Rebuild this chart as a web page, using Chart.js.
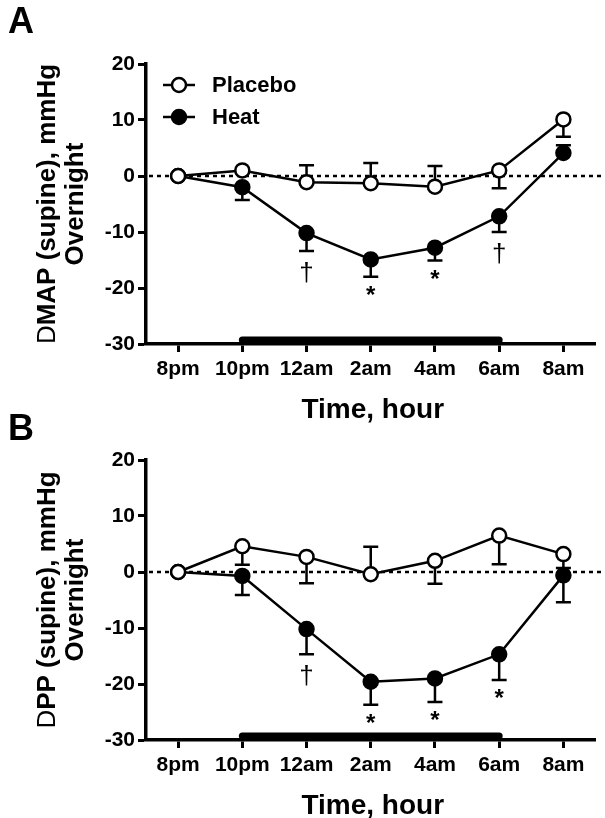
<!DOCTYPE html>
<html>
<head>
<meta charset="UTF-8">
<title>Overnight MAP / PP</title>
<script src="https://cdn.jsdelivr.net/npm/chart.js"></script>
<style>
  body { margin: 0; background: #fff; }
  .panel { position: absolute; left: 0; width: 605px; }
</style>
</head>
<body>
<div class="panel" style="top:0;height:425px"><canvas id="chartA"></canvas></div>
<div class="panel" style="top:400px;height:418px"><canvas id="chartB"></canvas></div>

<script>
// data (mmHg change from 8pm)
const hours = ['8pm', '10pm', '12am', '2am', '4am', '6am', '8am'];
const sleepBar = ['10pm', '6am'];

// panel A - MAP
const placeboA    = [0, 1.0, -1.1, -1.3, -1.9, 1.0, 10.1];
const placeboAErr = [0, 0, 3.0, 3.6, 3.7, -3.2, -3.1];   // + drawn up, - drawn down
const heatA       = [0, -2.0, -10.2, -14.9, -12.8, -7.2, 4.1];
const heatAErr    = [0, -2.3, -3.2, -3.1, -2.3, -2.8, 1.4];
const marksA      = ['', '', '†', '*', '*', '†', ''];

// panel B - PP
const placeboB    = [0, 4.6, 2.7, -0.4, 2.0, 6.5, 3.2];
const placeboBErr = [0, -3.3, -4.7, 4.9, -4.1, -5.1, -2.5];
const heatB       = [0, -0.7, -10.2, -19.6, -19.0, -14.7, -0.6];
const heatBErr    = [0, -3.4, -4.5, -4.1, -4.2, -4.6, -4.8];
const marksB      = ['', '', '†', '*', '*', '*', ''];

const FONT = "'Liberation Sans', Arial, sans-serif";

function makeChart(id, p) {
    const extras = {
        id: 'extras',
        beforeDatasetsDraw(chart) {
            const ctx = chart.ctx, x = chart.scales.x, y = chart.scales.y, area = chart.chartArea;
            ctx.save();
            ctx.strokeStyle = '#000';
            // short minor ticks on the y axis
            ctx.lineWidth = 3;
            y.ticks.forEach(t => {
                if (t.value % 10 === 0) return;
                const ty = y.getPixelForValue(t.value);
                ctx.beginPath();
                ctx.moveTo(area.left - 5, ty);
                ctx.lineTo(area.left, ty);
                ctx.stroke();
            });
            // dotted zero line
            ctx.lineWidth = 2.5;
            ctx.setLineDash([4, 4]);
            ctx.beginPath();
            ctx.moveTo(area.left + 3, y.getPixelForValue(0));
            ctx.lineTo(chart.width, y.getPixelForValue(0));
            ctx.stroke();
            ctx.setLineDash([]);
            // error bars
            [p.placeboErr, p.heatErr].forEach((errs, i) => {
                const vals = chart.data.datasets[i].data;
                errs.forEach((e, j) => {
                    if (!e) return;
                    const px = x.getPixelForValue(j);
                    const y0 = y.getPixelForValue(vals[j]);
                    const y1 = y.getPixelForValue(vals[j] + e);
                    ctx.beginPath();
                    ctx.moveTo(px, y0);
                    ctx.lineTo(px, y1);
                    ctx.moveTo(px - 7.5, y1);
                    ctx.lineTo(px + 7.5, y1);
                    ctx.stroke();
                });
            });
            // black bar for the sleep period
            ctx.lineWidth = 7;
            ctx.lineCap = 'round';
            ctx.beginPath();
            ctx.moveTo(x.getPixelForValue(hours.indexOf(sleepBar[0])), area.bottom - 4);
            ctx.lineTo(x.getPixelForValue(hours.indexOf(sleepBar[1])), area.bottom - 4);
            ctx.stroke();
            ctx.restore();
        },
        afterDraw(chart) {
            const ctx = chart.ctx, x = chart.scales.x, y = chart.scales.y, area = chart.chartArea;
            const heat = chart.data.datasets[1].data;
            ctx.save();
            ctx.fillStyle = '#000';
            ctx.textAlign = 'center';
            ctx.textBaseline = 'alphabetic';
            // significance marks under the heat error bars
            p.marks.forEach((m, j) => {
                if (!m) return;
                const capY = y.getPixelForValue(heat[j] + p.heatErr[j]);
                if (m === '*') {
                    ctx.font = 'bold 24px ' + FONT;
                    ctx.fillText(m, x.getPixelForValue(j), capY + 26);
                } else {
                    ctx.font = 'normal 26px ' + FONT;
                    ctx.fillText(m, x.getPixelForValue(j), capY + 30);
                }
            });
            // panel letter
            ctx.textAlign = 'left';
            ctx.font = 'bold 36px ' + FONT;
            ctx.fillText(p.letter, 8, area.top - p.letterGap);
            // x title
            ctx.textAlign = 'center';
            ctx.textBaseline = 'middle';
            ctx.font = 'bold 28px ' + FONT;
            ctx.fillText('Time, hour', (area.left + area.right) / 2 + 2, area.bottom + 66);
            // y title, two lines rotated
            const cy = (area.top + area.bottom) / 2;
            ctx.translate(55, cy);
            ctx.rotate(-Math.PI / 2);
            ctx.textBaseline = 'alphabetic';
            ctx.font = 'normal 26px ' + FONT;
            const wD = ctx.measureText('D').width;
            ctx.font = 'bold 26px ' + FONT;
            const wRest = ctx.measureText(p.yTitle).width;
            ctx.textAlign = 'left';
            ctx.font = 'normal 26px ' + FONT;
            ctx.fillText('D', -(wD + wRest) / 2, 0);
            ctx.font = 'bold 26px ' + FONT;
            ctx.fillText(p.yTitle, -(wD + wRest) / 2 + wD, 0);
            ctx.textAlign = 'center';
            ctx.fillText('Overnight', 0, 28);
            ctx.restore();

            // legend
            if (p.legend) {
                ctx.save();
                chart.data.datasets.forEach((ds, i) => {
                    const ly = area.top + 21 + i * 32;
                    ctx.strokeStyle = '#000';
                    ctx.lineWidth = 2.5;
                    ctx.beginPath();
                    ctx.moveTo(163, ly);
                    ctx.lineTo(195, ly);
                    ctx.stroke();
                    ctx.beginPath();
                    ctx.arc(179, ly, 7, 0, Math.PI * 2);
                    ctx.fillStyle = ds.pointBackgroundColor;
                    ctx.fill();
                    ctx.stroke();
                    ctx.fillStyle = '#000';
                    ctx.font = 'bold 22px ' + FONT;
                    ctx.textAlign = 'left';
                    ctx.textBaseline = 'middle';
                    ctx.fillText(ds.label, 212, ly + 1);
                });
                ctx.restore();
            }
        }
    };

    const line = (label, data, fill) => ({
        label: label,
        data: data,
        borderColor: '#000',
        borderWidth: 2.5,
        tension: 0,
        pointRadius: 7,
        pointHoverRadius: 7,
        pointBorderWidth: 2.5,
        pointBorderColor: '#000',
        pointBackgroundColor: fill
    });

    return new Chart(document.getElementById(id), {
        type: 'line',
        data: {
            labels: hours,
            datasets: [line('Placebo', p.placebo, '#fff'), line('Heat', p.heat, '#000')]
        },
        options: {
            responsive: true,
            maintainAspectRatio: false,
            animation: false,
            layout: { padding: { top: p.top, left: 0, right: 0, bottom: 0 } },
            plugins: { legend: { display: false }, tooltip: { enabled: false } },
            scales: {
                x: {
                    type: 'category',
                    offset: true,
                    grid: { drawOnChartArea: false, offset: false, tickLength: 8, tickWidth: 3, color: '#000' },
                    border: { color: '#000', width: 3.5 },
                    ticks: { color: '#000', padding: 5, maxRotation: 0, autoSkip: false,
                              font: { family: FONT, size: 21, weight: 'bold' } },
                    afterFit(s) { s.height = p.xHeight; }
                },
                y: {
                    min: -30,
                    max: 20,
                    grid: { drawOnChartArea: false, tickLength: 8, tickWidth: 3, color: '#000',
                            tickColor: c => (c.tick && c.tick.value % 10 === 0 ? '#000' : 'rgba(0,0,0,0)') },
                    border: { color: '#000', width: 3.5 },
                    ticks: { stepSize: 5, color: '#000', padding: 3,
                              font: { family: FONT, size: 21, weight: 'bold' },
                              callback: v => (v % 10 === 0 ? v : '') },
                    afterFit(s) { s.width = 146; }
                }
            }
        },
        plugins: [extras]
    });
}

makeChart('chartA', {
    placebo: placeboA, placeboErr: placeboAErr, heat: heatA, heatErr: heatAErr, marks: marksA,
    yTitle: 'MAP (supine), mmHg', letter: 'A', letterGap: 31, legend: true, top: 64, xHeight: 81
});
makeChart('chartB', {
    placebo: placeboB, placeboErr: placeboBErr, heat: heatB, heatErr: heatBErr, marks: marksB,
    yTitle: 'PP (supine), mmHg', letter: 'B', letterGap: 20, legend: false, top: 60, xHeight: 78
});
</script>
</body>
</html>
